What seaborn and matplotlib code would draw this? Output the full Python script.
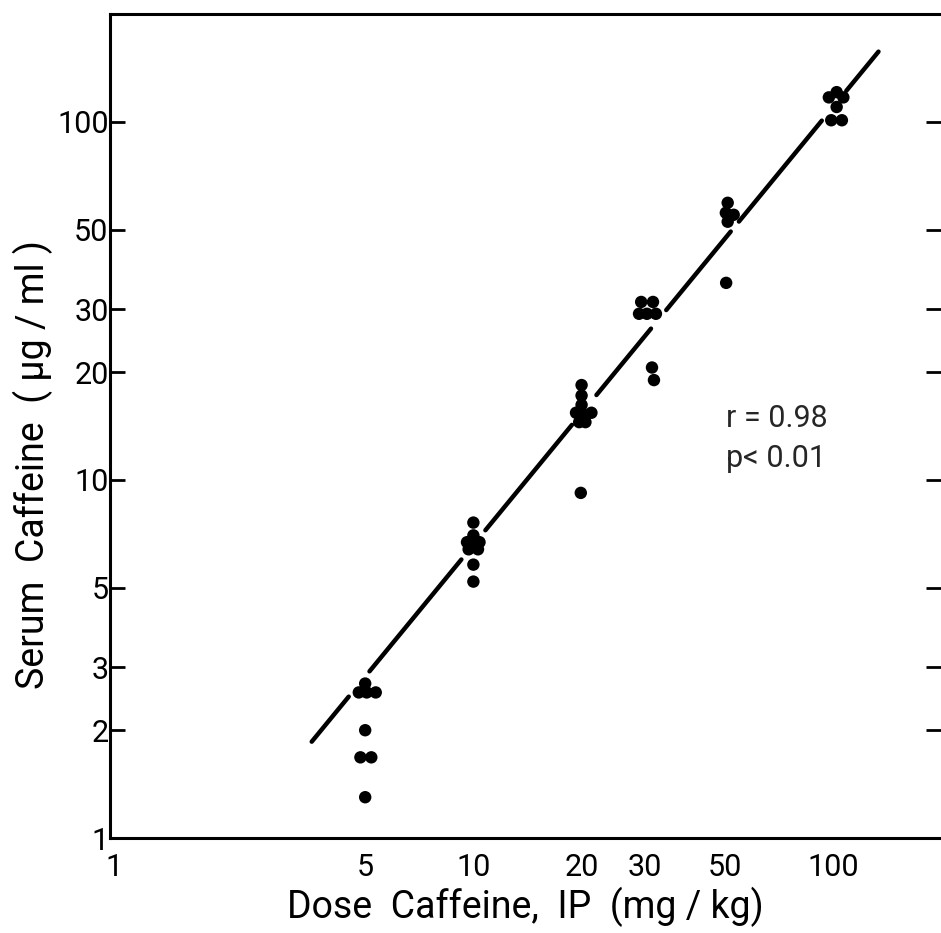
import numpy as np
import pandas as pd
import seaborn as sns
import matplotlib.pyplot as plt
from matplotlib.ticker import FixedLocator, FixedFormatter, NullLocator

# Data: plotted dose (with the small sideways offsets used in the figure) and serum level
dose_5 = [5.0, 4.8, 5.05, 5.35, 5.0, 4.85, 5.2, 5.0]
serum_5 = [2.7, 2.55, 2.55, 2.55, 2.0, 1.68, 1.68, 1.3]
dose_10 = [10.0, 10.0, 9.6, 10.4, 10.0, 9.7, 10.3, 10.0, 10.0]
serum_10 = [7.6, 7.0, 6.7, 6.7, 6.6, 6.4, 6.4, 5.8, 5.2]
dose_20 = [20.0, 20.0, 20.0, 19.3, 20.0, 21.3, 19.7, 20.5, 19.9]
serum_20 = [18.4, 17.2, 16.2, 15.4, 15.4, 15.4, 14.5, 14.5, 9.2]
dose_30 = [29.3, 31.6, 28.9, 30.4, 32.2, 31.4, 31.8]
serum_30 = [31.4, 31.4, 29.1, 29.1, 29.1, 20.6, 19.0]
dose_50 = [51.0, 50.4, 53.0, 51.0, 50.5]
serum_50 = [59.4, 55.7, 55.0, 52.6, 35.5]
dose_100 = [102.5, 97.5, 107.0, 102.5, 99.0, 106.0]
serum_100 = [121, 117, 117, 110, 101, 101]

# regression line y = a * x^b
fit_a = 0.395
fit_b = 1.222

x_ticks = [1, 5, 10, 20, 30, 50, 100]
y_ticks = [1, 2, 3, 5, 10, 20, 30, 50, 100]

doses = dose_5 + dose_10 + dose_20 + dose_30 + dose_50 + dose_100
serum = serum_5 + serum_10 + serum_20 + serum_30 + serum_50 + serum_100
pts = pd.DataFrame({"dose": doses, "serum": serum})

# the fitted line is broken where it passes the data clusters
segments = [(3.55, 4.5), (5.14, 9.26), (10.8, 18.8), (22.0, 31.2),
            (34.4, 52.0), (54.8, 93.2), (109.0, 134.0)]
rows = []
for i, (x0, x1) in enumerate(segments):
    for xv in (x0, x1):
        rows.append({"seg": i, "dose": xv, "serum": fit_a * xv ** fit_b})
line_df = pd.DataFrame(rows)

sns.set_style("white")
plt.rcParams["font.family"] = ["Roboto", "DejaVu Sans"]

fig = plt.figure(figsize=(9.41, 9.33), dpi=100)
ax = fig.add_axes([0.1169, 0.1018, 0.8831, 0.8832])

sns.lineplot(data=line_df, x="dose", y="serum", units="seg", estimator=None,
             color="black", lw=3.2, ax=ax, legend=False)
sns.scatterplot(data=pts, x="dose", y="serum", s=80, color="black",
                edgecolor="none", ax=ax, zorder=3)

ax.set_xscale("log")
ax.set_yscale("log")
ax.set_xlim(0.975, 200)
ax.set_ylim(1, 200)

ax.xaxis.set_major_locator(FixedLocator(x_ticks))
ax.xaxis.set_major_formatter(FixedFormatter([str(v) for v in x_ticks]))
ax.yaxis.set_major_locator(FixedLocator(y_ticks))
ax.yaxis.set_major_formatter(FixedFormatter([str(v) for v in y_ticks]))
ax.xaxis.set_minor_locator(NullLocator())
ax.yaxis.set_minor_locator(NullLocator())

ax.tick_params(axis="both", which="major", direction="in", length=11, width=2,
               labelsize=22, color="black", labelcolor="black")
ax.tick_params(axis="x", pad=11)
ax.tick_params(axis="y", pad=1, right=True, left=True)

for side in ["left", "top", "bottom"]:
    ax.spines[side].set_linewidth(2.2)
    ax.spines[side].set_color("black")
ax.spines["right"].set_visible(False)

ax.set_xlabel("Dose  Caffeine,  IP  (mg / kg)", fontsize=27, labelpad=3,
              color="black")
ax.set_ylabel("Serum  Caffeine  ( μg / ml )", fontsize=27, color="black")
ax.yaxis.set_label_coords(-0.068, 0.453)

ax.text(0.741, 0.499, "r = 0.98", transform=ax.transAxes, fontsize=22)
ax.text(0.741, 0.450, "p< 0.01", transform=ax.transAxes, fontsize=22)

fig.savefig("out.png", dpi=100)
